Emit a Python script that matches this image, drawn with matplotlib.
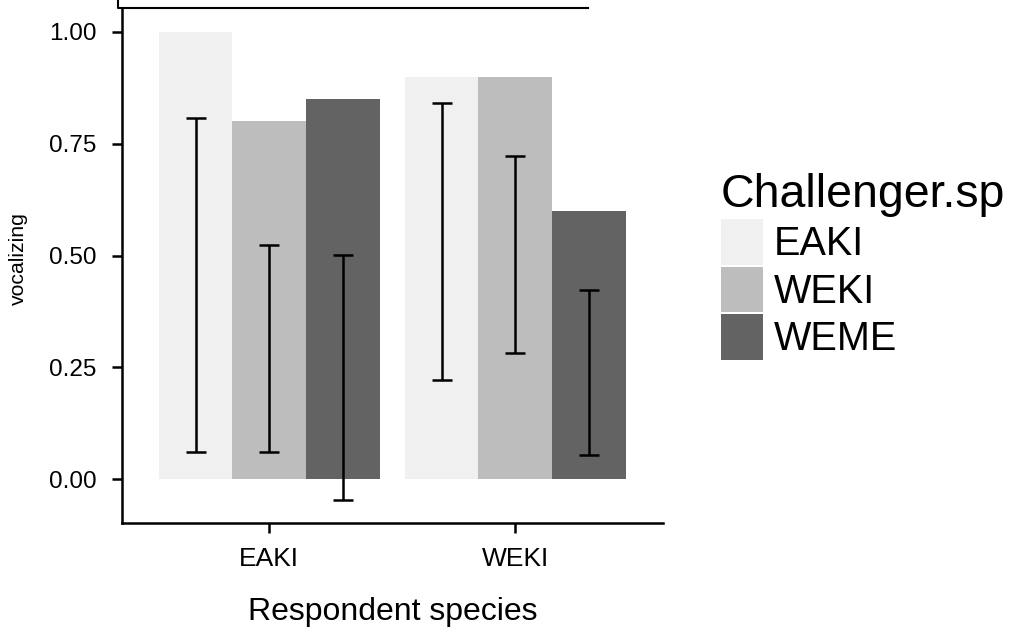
import numpy as np
import matplotlib
matplotlib.use("Agg")
import matplotlib.pyplot as plt
from matplotlib.lines import Line2D

plt.rcParams['font.family'] = ['Liberation Sans', 'DejaVu Sans']

# data
respondent = ["EAKI", "WEKI"]
challenger = ["EAKI", "WEKI", "WEME"]
vocal_eaki = [1.00, 0.80, 0.85]   # respondent EAKI
vocal_weki = [0.90, 0.90, 0.60]   # respondent WEKI
low_eaki = [0.060, 0.060, -0.046]
high_eaki = [0.808, 0.523, 0.501]
low_weki = [0.221, 0.283, 0.054]
high_weki = [0.842, 0.723, 0.423]
fills = ["#F0F0F0", "#BDBDBD", "#636363"]

W, H = 1013, 629
fig = plt.figure(figsize=(W / 100, H / 100), dpi=100)
ax = fig.add_axes([121.7 / W, 1 - 523 / H, (663 - 121.7) / W, (523 - 8.7) / H])

x = np.arange(1, len(respondent) + 1)
bw = 0.3
vals = np.array([vocal_eaki, vocal_weki])
lows = np.array([low_eaki, low_weki])
highs = np.array([high_eaki, high_weki])

for j, sp in enumerate(challenger):
    xpos = x + (j - 1) * bw
    ax.bar(xpos, vals[:, j], width=bw, color=fills[j], edgecolor="none", label=sp, zorder=1)
    mid = (lows[:, j] + highs[:, j]) / 2
    err = (highs[:, j] - lows[:, j]) / 2
    ax.errorbar(xpos, mid, yerr=err, fmt="none", ecolor="black", elinewidth=1.8,
                capsize=7.2, capthick=1.8, zorder=3)

ax.set_xlim(0.4, 2.6)
ax.set_ylim(-0.098, 1.052)
ax.set_xticks(x)
ax.set_xticklabels(respondent)
ax.set_yticks([0, 0.25, 0.5, 0.75, 1.0])
ax.set_yticklabels(["0.00", "0.25", "0.50", "0.75", "1.00"])

for s in ["top", "right"]:
    ax.spines[s].set_visible(False)
for s in ["left", "bottom"]:
    ax.spines[s].set_linewidth(1.8)
ax.tick_params(axis="both", length=7, width=1.8, color="black", labelcolor="black")
ax.tick_params(axis="y", pad=11, labelsize=17.5)
ax.tick_params(axis="x", pad=10, labelsize=19)

ax.set_xlabel("Respondent species", fontsize=23, labelpad=19)
ax.set_ylabel("vocalizing", fontsize=15.3, labelpad=15.5)
ax.yaxis.label.set_y(0.514)

leg = ax.legend(title="Challenger.sp", loc="upper left",
                bbox_to_anchor=(720.7 / W, 1 - 173 / H), bbox_transform=fig.transFigure,
                frameon=False, fontsize=28.5, title_fontsize=33.5, borderpad=0,
                handlelength=1.08, handleheight=1.4, handletextpad=0.26,
                labelspacing=0.05, alignment="left", borderaxespad=0)

# leftover box edge at the top of the picture
fig.add_artist(Line2D([117.9 / W, 117.9 / W, 587.5 / W], [1.0, 1 - 7.6 / H, 1 - 7.6 / H],
                      transform=fig.transFigure, color="black", linewidth=1.5))

fig.savefig("out.png", dpi=100)
